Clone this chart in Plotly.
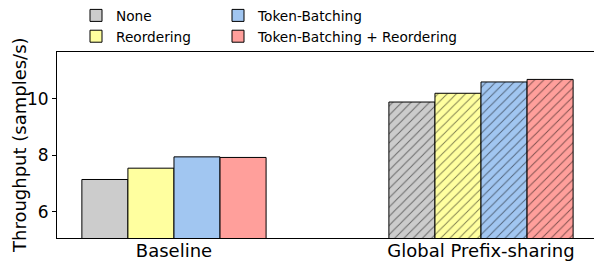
import plotly.graph_objects as go

categories = ["Baseline", "Global Prefix-sharing"]
series_names = ["None", "Reordering", "Token-Batching", "Token-Batching + Reordering"]
values_none = [7.14, 9.88]
values_reorder = [7.54, 10.19]
values_tb = [7.94, 10.59]
values_tbr = [7.92, 10.68]
colors = ["#cccccc", "#ffff9f", "#a1c6f1", "#ff9f9b"]
legend_ids = ["legend", "legend", "legend2", "legend2"]
hatches = ["", "/"]
y_title = "Throughput (samples/s)"

series_values = [values_none, values_reorder, values_tb, values_tbr]

W, H = 594, 263
L, T, B = 57, 51, 25
PW = W - L

fig = go.Figure()
for name, vals, col, lg in zip(series_names, series_values, colors, legend_ids):
    fig.add_trace(go.Bar(
        x=categories, y=vals, name=name, legend=lg,
        marker=dict(color=col, line=dict(color="black", width=1),
                    pattern=dict(shape=hatches, fgcolor="black", size=6.5, solidity=0.15,
                                 fillmode="overlay")),
    ))

legend_common = dict(orientation="v", yref="container", y=1.0, yanchor="top",
                     xref="paper", xanchor="left", font=dict(size=13.7),
                     bgcolor="rgba(0,0,0,0)", traceorder="normal", tracegroupgap=0)

fig.update_layout(
    width=W, height=H,
    margin=dict(l=L, r=0, t=T, b=B),
    paper_bgcolor="white", plot_bgcolor="white",
    font=dict(family="DejaVu Sans", color="black"),
    barmode="group", bargap=0.4, bargroupgap=0,
    showlegend=True,
    legend=dict(legend_common, x=(76 - L) / PW),
    legend2=dict(legend_common, x=(218 - L) / PW),
)
fig.add_annotation(text=y_title, textangle=-90, xref="paper", yref="paper",
                   x=(19 - L) / PW, y=0.5, xanchor="center", yanchor="middle",
                   showarrow=False, font=dict(size=18))
fig.update_xaxes(range=[-0.381, 1.368], showline=True, linecolor="black", linewidth=1,
                 mirror=True, ticks="", tickfont=dict(size=18), showgrid=False,
                 ticklabelstandoff=-4)
fig.update_yaxes(range=[5.07, 11.65], tickvals=[6, 8, 10], showline=True, linecolor="black",
                 linewidth=1, ticks="outside", ticklen=4, tickcolor="black",
                 tickfont=dict(size=17), showgrid=False, zeroline=False)

fig.write_html("out.html", config={"displayModeBar": False},
               post_script="document.body.style.margin='0';")
